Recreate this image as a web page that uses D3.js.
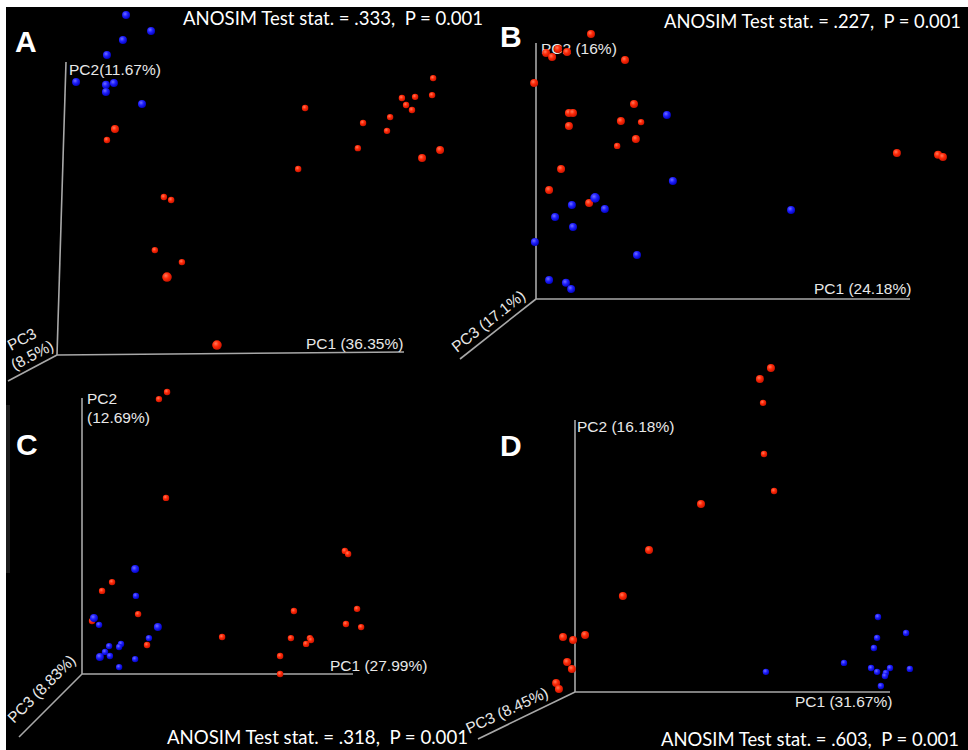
<!DOCTYPE html>
<html>
<head>
<meta charset="utf-8">
<script src="https://cdn.jsdelivr.net/npm/d3@7"></script>
<style>
  html, body { margin: 0; padding: 0; background: #fff; }
  svg { display: block; }
  text { white-space: pre; }
</style>
</head>
<body>
<svg id="chart" width="968" height="750"></svg>
<script>
// ---------- DATA ----------
const panelLetters = ["A", "B", "C", "D"];
const anosimStats = [".333", ".227", ".318", ".603"];
const pValues = ["0.001", "0.001", "0.001", "0.001"];
const pc1Labels = ["PC1 (36.35%)", "PC1 (24.18%)", "PC1 (27.99%)", "PC1 (31.67%)"];
const pc2Labels = [["PC2(11.67%)"], ["PC2 (16%)"], ["PC2", "(12.69%)"], ["PC2 (16.18%)"]];
const pc3Labels = [["PC3", "(8.5%)"], ["PC3 (17.1%)"], ["PC3 (8.83%)"], ["PC3 (8.45%)"]];

// points: [projected PC1 (% of axis), projected PC2 (% of axis), depth class 0..2]
const blueA = [[19.9,116.0,1],[27.1,110.6,1],[19.0,107.5,1],[14.4,102.4,1],[5.5,93.2,1],[14.1,92.2,1],[16.4,92.8,1],[14.1,89.8,1],[24.5,85.7,1]];
const redA = [[108.4,94.5,0],[108.1,88.7,0],[99.4,87.7,0],[103.2,88.1,0],[100.6,85.3,0],[102.3,83.6,0],[71.5,84.3,0],[96.0,81.2,0],[88.2,79.2,0],[95.1,76.5,0],[86.7,70.6,0],[110.4,70.0,1],[105.2,67.2,1],[69.5,63.5,0],[16.7,77.1,1],[14.4,73.4,0],[30.8,53.9,0],[32.9,52.9,0],[28.2,35.8,0],[36.0,31.7,0],[31.7,26.6,2],[46.1,3.4,2]];

const redB = [[14.7,103.5,1],[2.7,96.1,1],[4.3,94.5,1],[5.9,97.7,1],[8.3,96.5,1],[23.8,93.4,1],[-0.5,84.4,1],[26.2,76.2,1],[8.8,72.7,1],[9.9,72.7,1],[22.7,69.5,1],[28.1,69.1,0],[8.8,67.6,1],[26.7,62.5,1],[21.7,59.8,0],[6.7,50.8,1],[3.5,42.6,1],[14.2,37.5,1],[96.5,57.0,1],[107.5,56.3,1],[108.8,55.5,1]];
const blueB = [[35.0,71.9,1],[36.6,46.1,1],[68.2,34.8,1],[15.8,39.5,2],[9.6,36.7,1],[18.4,35.2,1],[5.1,32.0,1],[9.9,28.1,1],[-0.3,22.3,1],[27.0,17.2,1],[3.5,7.4,1],[8.0,6.3,1],[9.4,3.9,1]];

const redC = [[31.4,102.2,0],[28.4,99.6,0],[31.0,63.8,0],[97.0,44.6,0],[98.2,43.5,0],[11.1,33.3,0],[7.4,30.1,0],[20.7,21.7,0],[78.2,22.8,0],[101.5,23.6,0],[97.4,18.1,0],[103.0,17.0,0],[51.7,13.4,0],[77.1,13.0,0],[84.1,13.0,0],[84.5,12.3,0],[82.7,10.9,0],[24.0,10.5,0],[73.1,6.5,0],[73.1,0.0,0],[3.7,19.2,0]];
const blueC = [[19.6,38.0,1],[19.9,28.3,0],[4.4,20.3,1],[6.3,17.8,0],[28.0,17.0,1],[24.7,13.0,0],[10.0,10.1,0],[14.4,10.9,0],[13.7,9.8,0],[8.5,8.0,0],[10.3,6.5,0],[6.6,6.2,1],[19.6,5.4,0],[13.7,2.5,0]];

const redD = [[62.2,119.1,1],[58.7,115.1,1],[59.7,106.3,0],[60.0,87.5,0],[63.2,73.9,0],[40.0,69.1,1],[23.5,52.2,1],[15.2,35.3,1],[-3.8,20.2,1],[-0.6,19.1,1],[3.2,21.0,1],[-2.5,11.0,1],[-1.0,8.5,1],[-6.0,3.3,1],[-5.1,1.1,1]];
const blueD = [[96.2,27.6,0],[105.1,21.7,0],[95.9,19.9,0],[94.9,16.2,0],[85.4,10.7,0],[60.6,7.4,0],[94.0,8.8,0],[95.9,7.4,0],[100.0,8.8,0],[98.7,7.0,0],[98.4,5.9,0],[106.3,8.5,0],[97.1,2.2,0]];

const panelPoints = [
  {red: redA, blue: blueA},
  {red: redB, blue: blueB},
  {red: redC, blue: blueC},
  {red: redD, blue: blueD}
];

// ---------- LAYOUT ----------
const layout = [
  {origin:[57,355], pc1End:[404,352], pc2Top:[66,62], pc3End:[8,381],
   letter:[15,52], title:[183,25], titleW:300, pc1Pos:[306,349], pc2Pos:[69,75],
   pc3Pos:[11,351], pc3Rot:-28, pc3Line2:[-6,19]},
  {origin:[536,299], pc1End:[910,299], pc2Top:[536,43], pc3End:[460,359],
   letter:[500,47], title:[664,28], titleW:297, pc1Pos:[814,294], pc2Pos:[541,54],
   pc3Pos:[457,353], pc3Rot:-38.5},
  {origin:[82,674], pc1End:[353,674], pc2Top:[82,398], pc3End:[19,737],
   letter:[16,455], title:[167,744], titleW:301, pc1Pos:[330,671], pc2Pos:[87,404],
   pc3Pos:[14,724], pc3Rot:-45},
  {origin:[575,692], pc1End:[890,692], pc2Top:[575,420], pc3End:[478,739],
   letter:[500,456], title:[661,746], titleW:298, pc1Pos:[795,707], pc2Pos:[577,432],
   pc3Pos:[469,734], pc3Rot:-25}
];

const svg = d3.select("#chart");
const labelFont = "'Liberation Sans', Arial, sans-serif";

// background
svg.append("rect").attr("x", 0).attr("y", 0).attr("width", 968).attr("height", 750).attr("fill", "#fff");
svg.append("rect").attr("x", 6).attr("y", 7).attr("width", 962).attr("height", 743).attr("fill", "#000");
svg.append("rect").attr("x", 6).attr("y", 405).attr("width", 4).attr("height", 168).attr("fill", "#1c1c1c");

// gradients for spheres
const defs = svg.append("defs");
function sphereGrad(id, c0, c1, c2) {
  const g = defs.append("radialGradient").attr("id", id)
    .attr("cx", "38%").attr("cy", "35%").attr("r", "70%");
  g.append("stop").attr("offset", "0%").attr("stop-color", c0);
  g.append("stop").attr("offset", "45%").attr("stop-color", c1);
  g.append("stop").attr("offset", "100%").attr("stop-color", c2);
}
sphereGrad("gRed", "#ff7a5c", "#ff2a08", "#c41200");
sphereGrad("gBlue", "#7070ff", "#2020ff", "#0000b8");

const rScale = d3.scaleLinear().domain([0, 2]).range([3.2, 4.8]);

layout.forEach((L, i) => {
  const g = svg.append("g");
  const x = d3.scaleLinear().domain([0, 100]).range([L.origin[0], L.pc1End[0]]);
  const y = d3.scaleLinear().domain([0, 100]).range([L.origin[1], L.pc2Top[1]]);

  // axes
  const axisLines = [[L.origin, L.pc1End], [L.origin, L.pc2Top], [L.origin, L.pc3End]];
  g.selectAll("line.axis").data(axisLines).join("line")
    .attr("class", "axis")
    .attr("x1", d => d[0][0]).attr("y1", d => d[0][1])
    .attr("x2", d => d[1][0]).attr("y2", d => d[1][1])
    .attr("stroke", "#a8a8a8").attr("stroke-width", 1.6);

  // axis labels
  g.append("text").attr("x", L.pc1Pos[0]).attr("y", L.pc1Pos[1])
    .attr("font-family", labelFont).attr("font-size", 15.5).attr("fill", "#e8e8e8")
    .text(pc1Labels[i]);

  const t2 = g.append("text").attr("font-family", labelFont).attr("font-size", 15.5).attr("fill", "#e8e8e8");
  pc2Labels[i].forEach((s, k) => {
    t2.append("tspan").attr("x", L.pc2Pos[0]).attr("y", L.pc2Pos[1] + k * 19).text(s);
  });

  const t3 = g.append("text")
    .attr("transform", `translate(${L.pc3Pos[0]},${L.pc3Pos[1]}) rotate(${L.pc3Rot})`)
    .attr("font-family", labelFont).attr("font-size", 15.5).attr("fill", "#e8e8e8");
  pc3Labels[i].forEach((s, k) => {
    const off = k === 0 ? [0, 0] : (L.pc3Line2 || [0, 19]);
    t3.append("tspan").attr("x", off[0]).attr("y", off[1]).text(s);
  });

  // panel letter
  g.append("text").attr("x", L.letter[0]).attr("y", L.letter[1])
    .attr("font-family", labelFont).attr("font-weight", "bold").attr("font-size", 30)
    .attr("fill", "#fff").text(panelLetters[i]);

  // title
  g.append("text").attr("x", L.title[0]).attr("y", L.title[1])
    .attr("font-family", "Lato, 'Open Sans', sans-serif").attr("font-size", 18.5)
    .attr("fill", "#fff")
    .attr("textLength", L.titleW).attr("lengthAdjust", "spacingAndGlyphs")
    .text(`ANOSIM Test stat. = ${anosimStats[i]},  P = ${pValues[i]}`);

  // points
  const pts = panelPoints[i];
  g.selectAll("circle.red").data(pts.red).join("circle")
    .attr("class", "red")
    .attr("cx", d => x(d[0])).attr("cy", d => y(d[1])).attr("r", d => rScale(d[2]))
    .attr("fill", "url(#gRed)");
  g.selectAll("circle.blue").data(pts.blue).join("circle")
    .attr("class", "blue")
    .attr("cx", d => x(d[0])).attr("cy", d => y(d[1])).attr("r", d => rScale(d[2]))
    .attr("fill", "url(#gBlue)");
});
</script>
</body>
</html>
